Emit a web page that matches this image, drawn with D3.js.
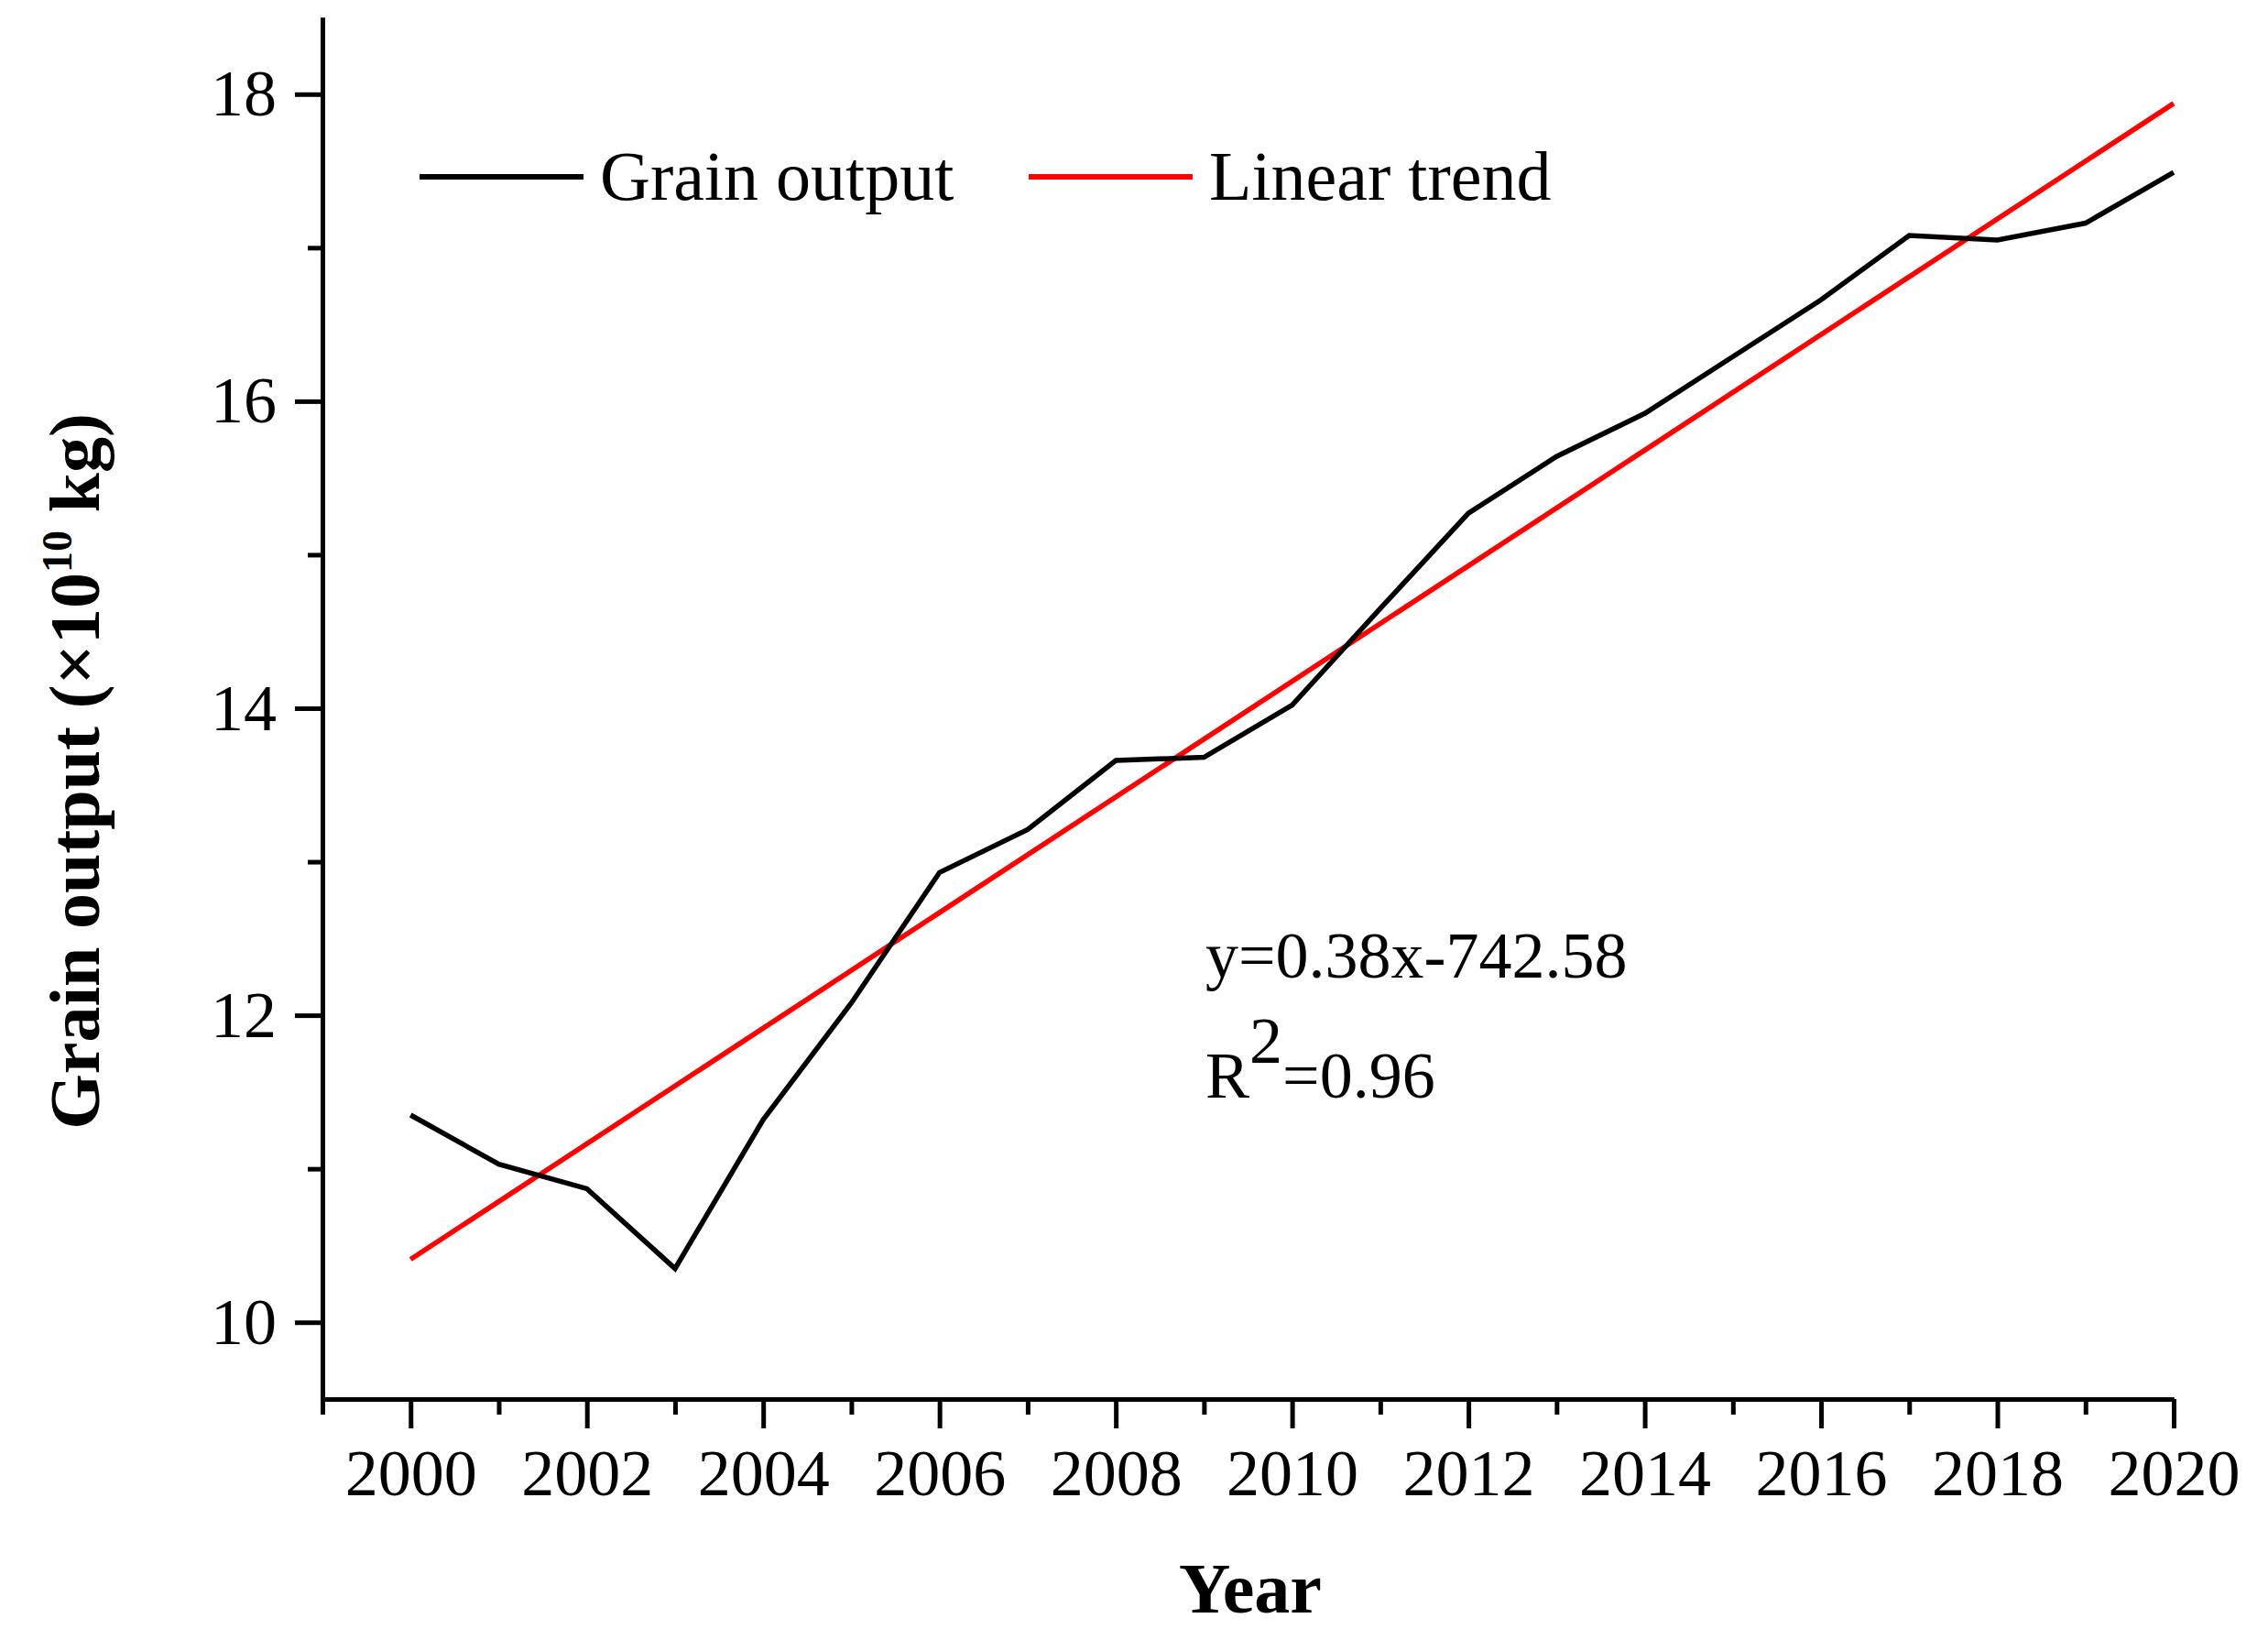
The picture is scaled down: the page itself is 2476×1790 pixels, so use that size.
<!DOCTYPE html>
<html>
<head>
<meta charset="utf-8">
<script src="https://cdn.jsdelivr.net/npm/d3@7"></script>
<style>
  body { margin: 0; background: #fff; }
  text { font-family: "Liberation Serif", "Times New Roman", serif; fill: #000; }
</style>
</head>
<body>
<div id="chart"></div>
<script>
// grain output (x10^10 kg)
const years = [2000, 2001, 2002, 2003, 2004, 2005, 2006, 2007, 2008, 2009, 2010,
               2011, 2012, 2013, 2014, 2015, 2016, 2017, 2018, 2019, 2020]
const grain = [11.35, 11.03, 10.87, 10.35, 11.32, 12.08, 12.93, 13.21, 13.66, 13.68, 14.02,
               14.65, 15.27, 15.64, 15.92, 16.29, 16.66, 17.08, 17.05, 17.16, 17.49]
// linear trend end points
const trendYears = [2000, 2020]
const trendValues = [10.41, 17.94]

const yMajor = [10, 12, 14, 16, 18]
const yMinor = [11, 13, 15, 17]
const xMajor = [2000, 2002, 2004, 2006, 2008, 2010, 2012, 2014, 2016, 2018, 2020]
const xMinor = [1999, 2001, 2003, 2005, 2007, 2009, 2011, 2013, 2015, 2017, 2019]

const seriesNames = ["Grain output", "Linear trend"]
const seriesColors = ["#000000", "#ff0000"]

const width = 2476, height = 1790
const plot = { left: 352, right: 2373, top: 19, bottom: 1527 }

const svg = d3.select("#chart").append("svg")
  .attr("width", width)
  .attr("height", height)

const x = d3.scaleLinear().domain([1999, 2020]).range([plot.left, plot.right])
const y = d3.scaleLinear().domain([9.5, 18.5]).range([plot.bottom, plot.top])

// y axis: minor ticks first, then major with labels
svg.append("g")
  .attr("transform", "translate(" + plot.left + ",0)")
  .call(d3.axisLeft(y).tickValues(yMinor).tickSize(16).tickSizeOuter(0).tickFormat(""))
svg.append("g")
  .attr("class", "yax")
  .attr("transform", "translate(" + plot.left + ",0)")
  .call(d3.axisLeft(y).tickValues(yMajor).tickSize(30).tickSizeOuter(0).tickPadding(20))

// x axis
svg.append("g")
  .attr("transform", "translate(0," + plot.bottom + ")")
  .call(d3.axisBottom(x).tickValues(xMinor).tickSize(17).tickSizeOuter(0).tickFormat(""))
svg.append("g")
  .attr("class", "xax")
  .attr("transform", "translate(0," + plot.bottom + ")")
  .call(d3.axisBottom(x).tickValues(xMajor).tickSize(32).tickSizeOuter(0).tickPadding(22).tickFormat(d3.format("d")))

svg.selectAll(".domain, .tick line")
  .attr("stroke", "#000")
  .attr("stroke-width", 5)
svg.selectAll(".tick text")
  .style("font-family", "'Liberation Serif', 'Times New Roman', serif")
  .attr("font-size", 72)
  .attr("fill", "#000")

// lines
const line = d3.line()
  .x(d => x(d[0]))
  .y(d => y(d[1]))

svg.append("path")
  .datum(d3.zip(trendYears, trendValues))
  .attr("fill", "none")
  .attr("stroke", seriesColors[1])
  .attr("stroke-width", 5.5)
  .attr("d", line)

svg.append("path")
  .datum(d3.zip(years, grain))
  .attr("fill", "none")
  .attr("stroke", seriesColors[0])
  .attr("stroke-width", 5.5)
  .attr("stroke-linejoin", "miter")
  .attr("d", line)

// legend
const legendX = [458, 1123]
seriesNames.forEach((name, i) => {
  svg.append("line")
    .attr("x1", legendX[i]).attr("x2", legendX[i] + 179)
    .attr("y1", 193).attr("y2", 193)
    .attr("stroke", seriesColors[i])
    .attr("stroke-width", 6)
  svg.append("text")
    .attr("x", legendX[i] + 197)
    .attr("y", 218)
    .attr("font-size", 76)
    .text(name)
})

// equation
svg.append("text")
  .attr("x", 1316).attr("y", 1067)
  .attr("font-size", 72)
  .text("y=0.38x-742.58")
const r2 = svg.append("text")
  .attr("x", 1316).attr("y", 1198)
  .attr("font-size", 72)
r2.append("tspan").text("R")
r2.append("tspan").attr("dy", -38).text("2")
r2.append("tspan").attr("dy", 38).text("=0.96")

// axis titles
svg.append("text")
  .attr("x", 1365).attr("y", 1760)
  .attr("text-anchor", "middle")
  .attr("font-size", 78)
  .attr("font-weight", "bold")
  .text("Year")

const yt = svg.append("text")
  .attr("transform", "translate(108,842) rotate(-90)")
  .attr("text-anchor", "middle")
  .attr("font-size", 78)
  .attr("font-weight", "bold")
yt.append("tspan").text("Grain output (\u00d710")
yt.append("tspan").attr("dy", -30).attr("font-size", 46).text("10")
yt.append("tspan").attr("dy", 30).text(" kg)")
</script>
</body>
</html>
